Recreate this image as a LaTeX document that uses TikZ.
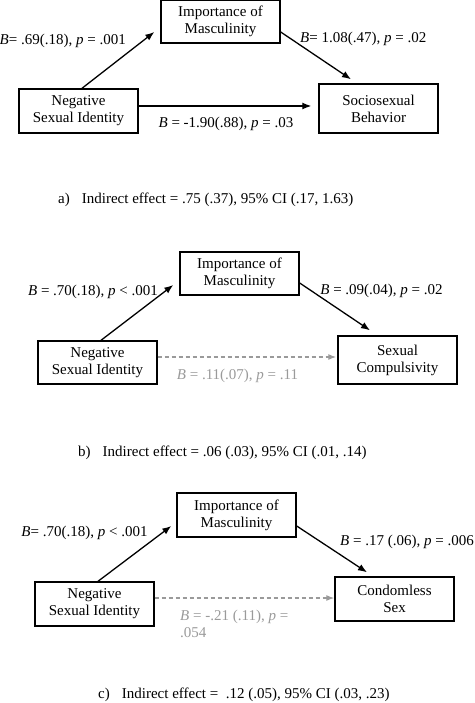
\documentclass[tikz,border=0pt]{standalone}
\usepackage{fontspec}
\setmainfont{Liberation Serif}
\usetikzlibrary{arrows.meta}
\definecolor{ngray}{HTML}{9A9A9A}
\tikzset{
  varbox/.style={draw, line width=1.4pt, minimum width=119pt, minimum height=#1, inner sep=0pt, align=center, font=\fontsize{15}{17}\selectfont},
  varbox/.default=44pt,
  effarrow/.style={line width=1.3pt, -{Latex[length=9pt,width=7pt]}},
  nsarrow/.style={line width=1.2pt, ngray, dash pattern=on 4pt off 3pt, -{Latex[length=8pt,width=6pt]}},
  lab/.style={font=\fontsize{15}{17}\selectfont, inner sep=0pt},
  glab/.style={lab, text=ngray},
  captext/.style={font=\fontsize{15}{17}\selectfont, inner sep=0pt, anchor=west}
}
\begin{document}
\begin{tikzpicture}[x=1pt,y=-1pt]
\useasboundingbox (0,0) rectangle (474,703);
% ---------- panel a ----------
\node[varbox=43pt] (mA) at (220.5,21.5) {Importance of\\Masculinity};
\node[varbox=44pt] (nA) at (78.5,111) {Negative\\Sexual Identity};
\node[varbox=49pt] (sA) at (378.5,108.5) {Sociosexual\\Behavior};
\draw[effarrow] ([xshift=3.5pt]nA.north) -- ([xshift=-6pt,yshift=-10.5pt]mA.west);
\draw[effarrow] ([yshift=-10.5pt]mA.east) -- ([xshift=-27.5pt,yshift=4pt]sA.north);
\draw[effarrow] ([yshift=5pt]nA.east) -- ([xshift=-7pt,yshift=2.5pt]sA.west);
\node[lab, anchor=east] (la1) at (126,41) {\textit{B}= .69(.18), \textit{p} = .001};
\node[lab, anchor=west] (la2) at (300,39) {\textit{B}= 1.08(.47), \textit{p} = .02};
\node[lab] (la3) at (226,124) {\textit{B} = -1.90(.88), \textit{p} = .03};
\node[captext] (ca) at (58,200) {a)\hspace{12pt}Indirect effect = .75 (.37), 95\% CI (.17, 1.63)};
% ---------- panel b ----------
\node[varbox=43pt] (mB) at (239.5,273.5) {Importance of\\Masculinity};
\node[varbox=43pt] (nB) at (97.5,362.5) {Negative\\Sexual Identity};
\node[varbox=48pt] (sB) at (397.5,360) {Sexual\\Compulsivity};
\draw[effarrow] ([xshift=3.5pt]nB.north) -- ([xshift=-6pt,yshift=-11.5pt]mB.west);
\draw[effarrow] ([yshift=-9.5pt]mB.east) -- ([xshift=-27.5pt,yshift=5pt]sB.north);
\draw[nsarrow] ([yshift=5.5pt]nB.east) -- ([xshift=-1pt,yshift=3pt]sB.west);
\node[lab] (lb1) at (93,292) {\textit{B} = .70(.18), \textit{p} < .001};
\node[lab] (lb2) at (381.5,291) {\textit{B} = .09(.04), \textit{p} = .02};
\node[glab] (lb3) at (237.5,376) {\textit{B} = .11(.07), \textit{p} = .11};
\node[captext] (cb) at (78,453) {b)\hspace{12pt}Indirect effect = .06 (.03), 95\% CI (.01, .14)};
% ---------- panel c ----------
\node[varbox=44pt] (mC) at (236.5,515) {Importance of\\Masculinity};
\node[varbox=44pt] (nC) at (94.5,604) {Negative\\Sexual Identity};
\node[varbox=44pt] (sC) at (394.5,599) {Condomless\\Sex};
\draw[effarrow] ([xshift=3.5pt]nC.north) -- ([xshift=-5pt,yshift=-11pt]mC.west);
\draw[effarrow] ([yshift=-11pt]mC.east) -- ([xshift=-27.5pt,yshift=4pt]sC.north);
\draw[nsarrow] ([yshift=6pt]nC.east) -- ([yshift=1pt]sC.west);
\node[lab] (lc1) at (84.5,533) {\textit{B}= .70(.18), \textit{p} < .001};
\node[lab, anchor=west] (lc2) at (340,542) {\textit{B} = .17 (.06), \textit{p} = .006};
\node[glab, anchor=west] (lc3) at (180,617) {\textit{B} = -.21 (.11), \textit{p} =};
\node[glab, anchor=west] (lc4) at (180,633) {.054};
\node[captext] (cc) at (98,695) {c)\hspace{12pt}Indirect effect =\ \ .12 (.05), 95\% CI (.03, .23)};
\end{tikzpicture}
\end{document}
